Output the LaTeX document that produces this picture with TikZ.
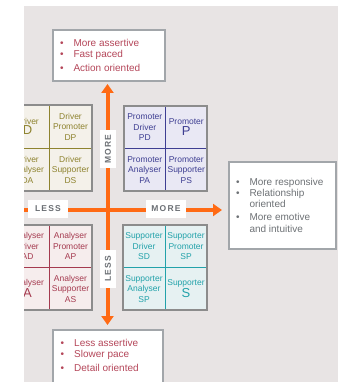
\documentclass[tikz,border=0pt]{standalone}
\usepackage{fontspec}
\setmainfont{Liberation Sans}
\newfontfamily\lblfont[LetterSpace=14]{Liberation Sans}
\usetikzlibrary{arrows.meta}
\definecolor{bgc}{HTML}{E8E4E4}
\definecolor{boxline}{HTML}{A2A6AA}
\definecolor{redtxt}{HTML}{B5475A}
\definecolor{greytxt}{HTML}{6E7276}
\definecolor{arrowc}{HTML}{FF6A14}
\definecolor{lbltxt}{HTML}{6B6F74}
\definecolor{gridb}{HTML}{8C8C8C}
\definecolor{dfill}{HTML}{F4F1EA}\definecolor{dline}{HTML}{8E832F}
\definecolor{pfill}{HTML}{E9E8F4}\definecolor{pline}{HTML}{3E3E92}
\definecolor{afill}{HTML}{F6EDED}\definecolor{aline}{HTML}{A53A4F}
\definecolor{sfill}{HTML}{E6F1F2}\definecolor{sline}{HTML}{22A2AA}
\tikzset{
  infobox/.style={draw=boxline, line width=1.1pt, fill=white},
  redline/.style={anchor=base west, inner sep=0, text=redtxt, font=\fontsize{10}{12}\selectfont},
  greyline/.style={anchor=base west, inner sep=0, text=greytxt, font=\fontsize{10}{12}\selectfont},
  bigarrow/.style={draw=arrowc, line width=4pt, -{Triangle[length=9pt,width=12pt]}},
  lbl/.style={fill=white, inner sep=0, text=lbltxt, font=\lblfont\bfseries\fontsize{8.5}{10}\selectfont},
  cell/.style={inner sep=0, outer sep=0, anchor=north west, line width=0.9pt, align=center, font=\fontsize{8.5}{10.5}\selectfont},
  drvcell/.style={cell, fill=dfill, draw=dline, text=dline, minimum width=43pt, minimum height=43pt},
  procell/.style={cell, fill=pfill, draw=pline, text=pline, minimum width=41.5pt, minimum height=42.5pt},
  anacell/.style={cell, fill=afill, draw=aline, text=aline, minimum width=43pt, minimum height=42.5pt},
  supcell/.style={cell, fill=sfill, draw=sline, text=sline, minimum width=42pt, minimum height=42.5pt},
  gridborder/.style={draw=gridb, line width=1.1pt},
}
\newcommand{\bigletter}[1]{{\fontsize{13}{13}\selectfont #1}}
% \quadgrid{x0}{y0}{style}{prefix}{tl}{tr}{bl}{br}
\newcommand{\quadgrid}[8]{%
  \node[#3] (#4-tl) at (#1,#2) {#5};
  \node[#3] (#4-tr) at (#4-tl.north east) {#6};
  \node[#3] (#4-bl) at (#4-tl.south west) {#7};
  \node[#3] (#4-br) at (#4-tl.south east) {#8};
  \draw[gridborder] (#4-tl.north west) rectangle (#4-br.south east);
}
\begin{document}
\begin{tikzpicture}[x=1pt,y=-1pt]
\useasboundingbox (0,0) rectangle (338,382);
\fill[bgc] (24,6) rectangle (338,382);
\begin{scope}
\clip (24,6) rectangle (338,382);
% grids
\quadgrid{6}{105}{drvcell}{drv}{Driver\\\bigletter{D}}{Driver\\Promoter\\DP}{Driver\\Analyser\\DA}{Driver\\Supporter\\DS}
\quadgrid{124}{106}{procell}{pro}{Promoter\\Driver\\PD}{Promoter\\\bigletter{P}}{Promoter\\Analyser\\PA}{Promoter\\Supporter\\PS}
\quadgrid{6}{225}{anacell}{ana}{Analyser\\Driver\\AD}{Analyser\\Promoter\\AP}{Analyser\\\bigletter{A}}{Analyser\\Supporter\\AS}
\quadgrid{123}{225}{supcell}{sup}{Supporter\\Driver\\SD}{Supporter\\Promoter\\SP}{Supporter\\Analyser\\SP}{Supporter\\\bigletter{S}}
% info boxes
\node[infobox, minimum width=112pt, minimum height=51pt, inner sep=0] (topbox) at (109,55.5) {};
\node[infobox, minimum width=107pt, minimum height=87pt, inner sep=0] (rightbox) at (282.5,205.5) {};
\node[infobox, minimum width=110pt, minimum height=62pt, inner sep=0] (botbox) at (108,361) {};
% top box text
\node[redline] (t1b) at (60,46.3) {•};\node[redline] (t1) at (73.3,46.3) {More assertive};
\node[redline] (t2b) at (60,57.9) {•};\node[redline] (t2) at (73.3,57.9) {Fast paced};
\node[redline] (t3b) at (60,71.9) {•};\node[redline] (t3) at (73.3,71.9) {Action oriented};
% bottom box text
\node[redline] (b1b) at (60.5,346.3) {•};\node[redline] (b1) at (74,346.3) {Less assertive};
\node[redline] (b2b) at (60.5,357.9) {•};\node[redline] (b2) at (74,357.9) {Slower pace};
\node[redline] (b3b) at (60.5,371.9) {•};\node[redline] (b3) at (74,371.9) {Detail oriented};
% right box text
\node[greyline] (r1b) at (236,185.3) {•};\node[greyline] (r1) at (249.3,185.3) {More responsive};
\node[greyline] (r2b) at (236,196.3) {•};\node[greyline] (r2) at (249.3,196.3) {Relationship};
\node[greyline] (r3) at (249.3,207.3) {oriented};
\node[greyline] (r4b) at (236,220.8) {•};\node[greyline] (r4) at (249.3,220.8) {More emotive};
\node[greyline] (r5) at (249.3,232.3) {and intuitive};
% arrows
\coordinate (vtop) at (107.5,84);
\coordinate (vbot) at (107.5,325);
\coordinate (hleft) at (10,210);
\coordinate (hright) at (222,210);
\draw[bigarrow, {Triangle[length=9pt,width=12pt]}-{Triangle[length=9pt,width=12pt]}] (vtop) -- (vbot);
\draw[bigarrow] (hleft) -- (hright);
% labels
\node[lbl, minimum width=40pt, minimum height=18pt] (lessH) at (48,209) {LESS};
\node[lbl, minimum width=40pt, minimum height=18pt] (moreH) at (166,209) {MORE};
\node[lbl, rotate=90, minimum width=38pt, minimum height=16pt] (moreV) at (108,149) {MORE};
\node[lbl, rotate=90, minimum width=38pt, minimum height=16pt] (lessV) at (108,269) {LESS};
\end{scope}
\end{tikzpicture}
\end{document}
